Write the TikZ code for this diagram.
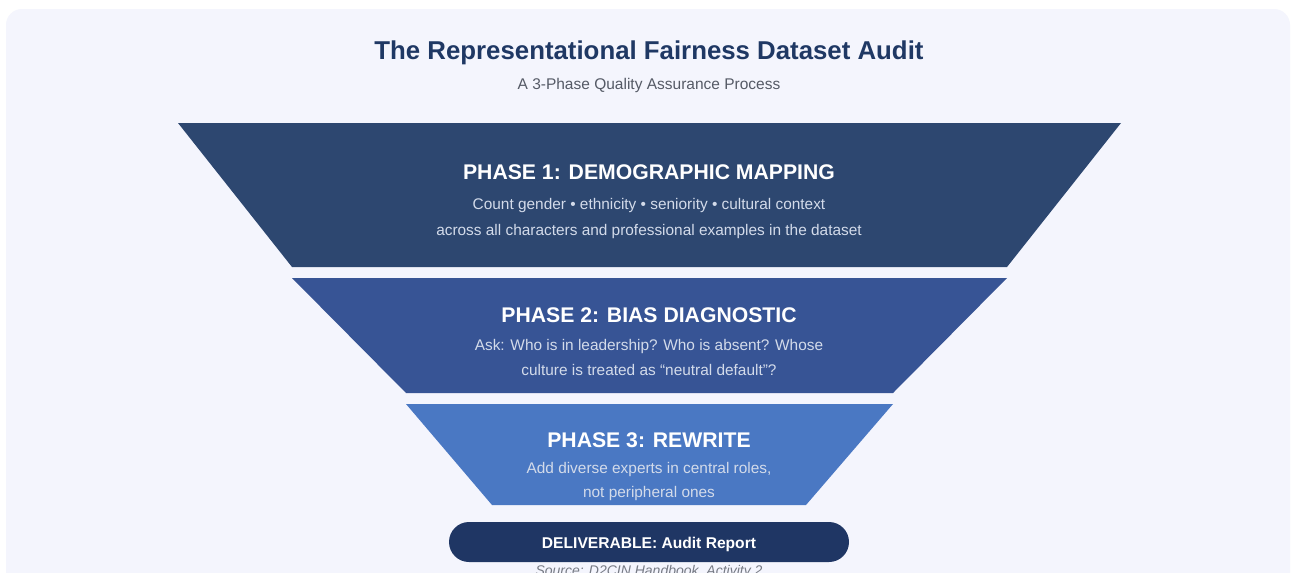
\documentclass[tikz,border=0pt]{standalone}
\usepackage{fontspec}
\setmainfont{Liberation Sans}
\begin{document}
\definecolor{cardbg}{HTML}{F4F5FD}
\definecolor{titleblue}{HTML}{1F3864}
\definecolor{subgray}{HTML}{555A66}
\definecolor{phaseone}{HTML}{2D4770}
\definecolor{phasetwo}{HTML}{375495}
\definecolor{phasethree}{HTML}{4A78C3}
\definecolor{pillblue}{HTML}{1F3664}
\definecolor{desctext}{HTML}{D3DBEA}
\begin{tikzpicture}[x=1pt,y=-1pt,
  phasetitle/.style={font=\fontsize{21.2}{24}\selectfont\bfseries, text=white, inner sep=0pt},
  phasedesc/.style={font=\fontsize{15.4}{26}\selectfont, text=desctext, align=center, inner sep=0pt},
  band/.style={line width=0pt}]
\useasboundingbox (0,0) rectangle (1291,573);
\clip (0,0) rectangle (1291,573);
\fill[white] (0,0) rectangle (1291,573);
% card
\fill[cardbg, rounded corners=16pt] (6,9) rectangle (1290,620);

% headings
\node[font=\fontsize{25.8}{30}\selectfont\bfseries, text=titleblue, inner sep=0pt] (title) at (649,53) {The Representational Fairness Dataset Audit};
\node[font=\fontsize{15.5}{18}\selectfont, text=subgray, inner sep=0pt] (subtitle) at (649,85) {A 3-Phase Quality Assurance Process};

% funnel bands
\fill[phaseone]   (178,123) -- (1121,123) -- (1007,267) -- (292,267) -- cycle;
\fill[phasetwo]   (292,278) -- (1007,278) -- (893,393) -- (406,393) -- cycle;
\fill[phasethree] (406,404) -- (893,404) -- (806,505) -- (492,505) -- cycle;

% band texts
\node[phasetitle] (p1t) at (649,172) {PHASE 1: DEMOGRAPHIC MAPPING};
\node[phasedesc, anchor=base] (p1a) at (649,209) {Count gender • ethnicity • seniority • cultural context};
\node[phasedesc, anchor=base] (p1b) at (649,235) {across all characters and professional examples in the dataset};

\node[phasetitle] (p2t) at (649,315) {PHASE 2: BIAS DIAGNOSTIC};
\node[phasedesc, anchor=base] (p2a) at (649,350) {Ask: Who is in leadership? Who is absent? Whose};
\node[phasedesc, anchor=base] (p2b) at (649,375) {culture is treated as “neutral default”?};

\node[phasetitle] (p3t) at (649,440) {PHASE 3: REWRITE};
\node[phasedesc, anchor=base] (p3a) at (649,473) {Add diverse experts in central roles,};
\node[phasedesc, anchor=base] (p3b) at (649,497) {not peripheral ones};

% deliverable pill
\fill[pillblue, rounded corners=20pt] (449,522) rectangle (849,562);
\node[font=\fontsize{15.6}{18}\selectfont\bfseries, text=white, inner sep=0pt] (deliv) at (649,544) {DELIVERABLE: Audit Report};

% source line
\node[font=\fontsize{14}{16}\selectfont\itshape, text=subgray!80, inner sep=0pt] (source) at (649,572) {Source: D2CIN Handbook, Activity 2};
\end{tikzpicture}
\end{document}
